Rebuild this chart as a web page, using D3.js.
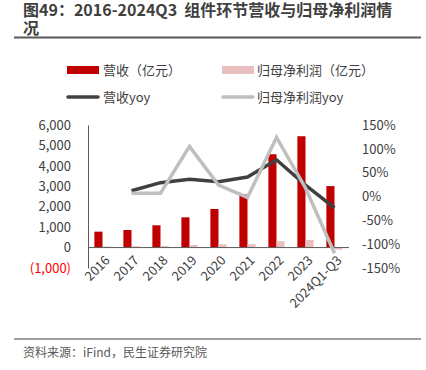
<!DOCTYPE html>
<meta charset="utf-8">
<title>组件环节营收与归母净利润情况</title>
<script src="https://d3js.org/d3.v7.min.js"></script>
<style>
  body { margin: 0; background: #fff; }
  text { font-family: "Noto Sans CJK SC", "Noto Sans", sans-serif; }
</style>
<body>
<script>

var w = 426
var h = 370

// data
var years = ["2016", "2017", "2018", "2019", "2020", "2021", "2022", "2023", "2024Q1-Q3"];
var revenue = [780, 860, 1090, 1480, 1890, 2600, 4570, 5450, 3010];
var profit = [50, 60, 80, 130, 160, 160, 310, 370, -100];
var revenueYoy = [null, 0.12, 0.29, 0.36, 0.31, 0.41, 0.77, 0.24, -0.24];
var profitYoy = [null, 0.07, 0.07, 1.05, 0.24, -0.02, 1.24, 0.18, -1.19];
var leftTicks = [-1000, 0, 1000, 2000, 3000, 4000, 5000, 6000];
var rightTicks = [-1.5, -1, -0.5, 0, 0.5, 1, 1.5];
var titleLines = ["图49：2016-2024Q3  组件环节营收与归母净利润情", "况"];

var svg = d3.select("body")
  .append("svg")
  .attr("width", w)
  .attr("height", h);

// title, two lines as two texts
svg.append("g").selectAll("text")
  .data(titleLines)
  .enter()
  .append("text")
    .attr("x", 23)
    .attr("y", function (d, i) { return 16 + i * 17.5; })
    .attr("fill", "#404040")
    .attr("font-size", 16)
    .attr("font-weight", "bold")
    .attr("xml:space", "preserve")
    .style("white-space", "pre")
    .text(function (d) { return d; });

svg.append("line")
  .attr("x1", 14).attr("x2", 421)
  .attr("y1", 37.5).attr("y2", 37.5)
  .attr("stroke", "#595959").attr("stroke-width", 2);

// legend
var legend = svg.append("g").attr("font-size", 13).attr("fill", "#404040");
legend.append("rect").attr("x", 67).attr("y", 66).attr("width", 32).attr("height", 8).attr("fill", "#c00000");
legend.append("text").attr("x", 103).attr("y", 75).text("营收（亿元）");
legend.append("rect").attr("x", 222).attr("y", 66).attr("width", 32).attr("height", 8).attr("fill", "#ebbfbf");
legend.append("text").attr("x", 257).attr("y", 75).text("归母净利润（亿元）");
legend.append("line").attr("x1", 68).attr("x2", 98).attr("y1", 97).attr("y2", 97)
  .attr("stroke", "#404040").attr("stroke-width", 3.5).attr("stroke-linecap", "round");
legend.append("text").attr("x", 103).attr("y", 102).text("营收yoy");
legend.append("line").attr("x1", 223).attr("x2", 253).attr("y1", 97).attr("y2", 97)
  .attr("stroke", "#bfbfbf").attr("stroke-width", 3.5).attr("stroke-linecap", "round");
legend.append("text").attr("x", 257).attr("y", 102).text("归母净利润yoy");

// scales
var x = d3.scaleBand().domain(years).range([88, 349]);
var yL = d3.scaleLinear().domain([-1000, 6000]).range([268, 125]);
var yR = d3.scaleLinear().domain([-1.5, 1.5]).range([268, 125]);
var barW = x.bandwidth() * 0.28;

// bars
svg.append("g").selectAll("rect")
  .data(years)
  .enter()
  .append("rect")
    .attr("x", function (d) { return x(d) + x.bandwidth() / 2 - barW; })
    .attr("width", barW)
    .attr("y", function (d, i) { return yL(Math.max(0, revenue[i])); })
    .attr("height", function (d, i) { return Math.abs(yL(revenue[i]) - yL(0)); })
    .attr("fill", "#c00000");

svg.append("g").selectAll("rect")
  .data(years)
  .enter()
  .append("rect")
    .attr("x", function (d) { return x(d) + x.bandwidth() / 2; })
    .attr("width", barW)
    .attr("y", function (d, i) { return yL(Math.max(0, profit[i])); })
    .attr("height", function (d, i) { return Math.abs(yL(profit[i]) - yL(0)); })
    .attr("fill", "#ebbfbf");

// left axis
var leftAxis = svg.append("g")
  .attr("transform", "translate(88,0)")
  .call(d3.axisLeft(yL).tickValues(leftTicks).tickSize(0).tickPadding(17)
    .tickFormat(function (d) { return d < 0 ? "(" + d3.format(",")(-d) + ")" : d3.format(",")(d); }));
leftAxis.select(".domain").attr("stroke", "#595959");
leftAxis.selectAll("text")
  .attr("font-size", 13)
  .attr("font-family", "'Noto Sans', sans-serif")
  .attr("fill", function (d) { return d < 0 ? "#ff0000" : "#404040"; });

// right axis
var rightAxis = svg.append("g")
  .attr("transform", "translate(349,0)")
  .call(d3.axisRight(yR).tickValues(rightTicks).tickSize(0).tickPadding(13)
    .tickFormat(d3.format(".0%")));
rightAxis.select(".domain").remove();
rightAxis.selectAll("text")
  .attr("font-size", 13)
  .attr("font-family", "'Noto Sans', sans-serif")
  .attr("fill", "#404040")
  .text(function (d) { return d3.format(".0%")(d).replace("−", "-"); });

// zero line
svg.append("line")
  .attr("x1", 88).attr("x2", 349)
  .attr("y1", yL(0)).attr("y2", yL(0))
  .attr("stroke", "#595959");

// x labels
svg.append("g").selectAll("text")
  .data(years)
  .enter()
  .append("text")
    .attr("transform", function (d) { return "translate(" + (x(d) + x.bandwidth() / 2 + 5) + "," + 258 + ") rotate(-45)"; })
    .attr("text-anchor", "end")
    .attr("dy", "0.35em")
    .attr("font-size", 13)
    .attr("font-family", "'Noto Sans', sans-serif")
    .attr("fill", "#404040")
    .text(function (d) { return d; });

// lines
var line = function (vals) {
  return d3.line()
    .defined(function (d, i) { return vals[i] !== null; })
    .x(function (d) { return x(d) + x.bandwidth() / 2; })
    .y(function (d, i) { return yR(vals[i]); })(years);
};

svg.append("path")
  .attr("d", line(revenueYoy))
  .attr("fill", "none")
  .attr("stroke", "#404040")
  .attr("stroke-width", 3.5);

svg.append("path")
  .attr("d", line(profitYoy))
  .attr("fill", "none")
  .attr("stroke", "#bfbfbf")
  .attr("stroke-width", 3.5);

// footer
svg.append("line")
  .attr("x1", 14).attr("x2", 421)
  .attr("y1", 339).attr("y2", 339)
  .attr("stroke", "#7f7f7f").attr("stroke-width", 1.5);

svg.append("text")
  .attr("x", 23).attr("y", 357)
  .attr("font-size", 12)
  .attr("fill", "#595959")
  .text("资料来源：iFind，民生证券研究院");

</script>
</body>
